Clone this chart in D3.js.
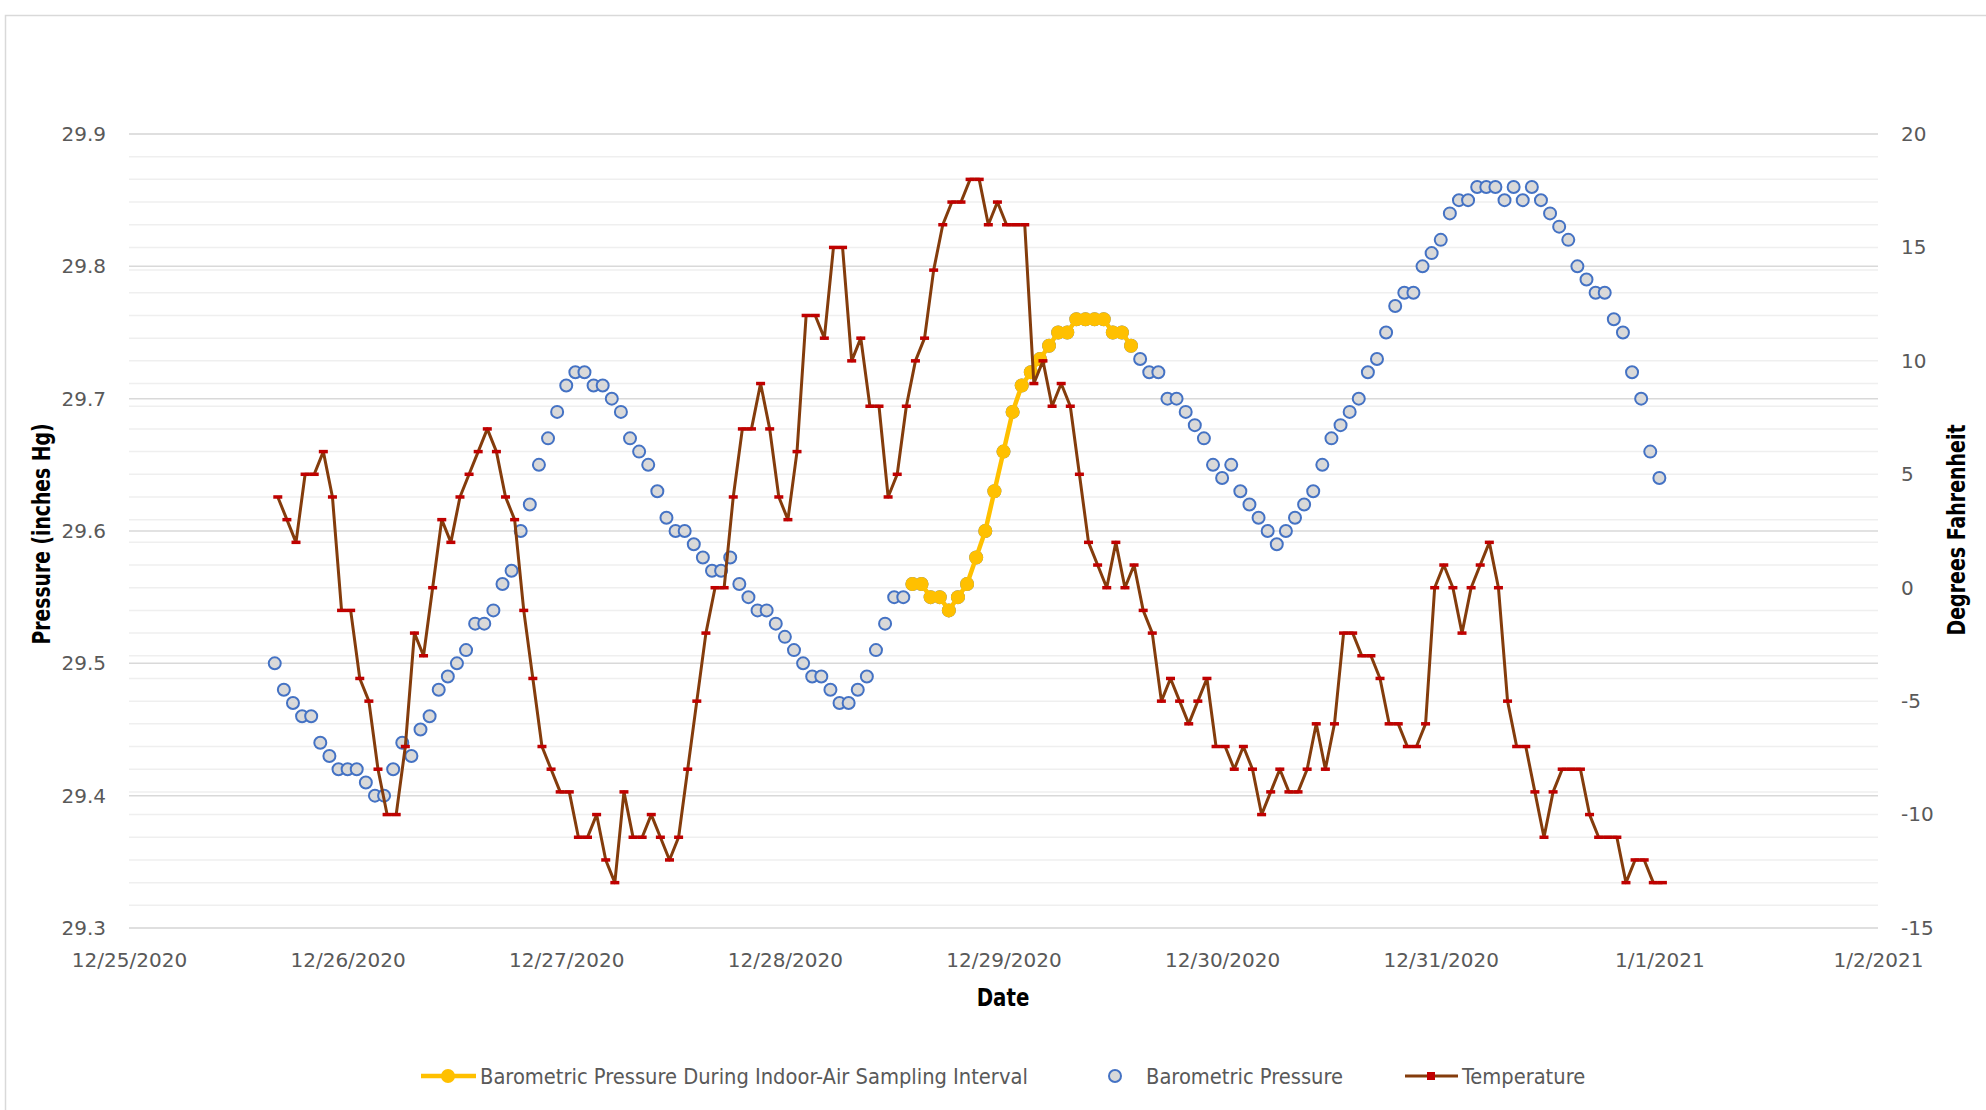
<!DOCTYPE html>
<html lang="en">
<head>
<meta charset="UTF-8">
<title>Barometric Pressure and Temperature</title>
<script src="https://d3js.org/d3.v7.min.js"></script>
<style>
  body { margin: 0; background: #fff; }
  .tick text { font-family: "DejaVu Sans", sans-serif; font-size: 20px; fill: #595959; }
  .title { font-family: "Liberation Sans Narrow", "DejaVu Sans Condensed", sans-serif; font-weight: bold; fill: #000; }
  .legend text { font-family: "Liberation Sans Narrow", "DejaVu Sans Condensed", sans-serif; font-size: 21.7px; fill: #595959; }
</style>
</head>
<body>
<div id="chart"></div>
<script>
// hourly readings, first one at 12/25/2020 16:00
const pressureStart = "2020-12-25T16:00";
const pressure = [
  29.50, 29.48, 29.47, 29.46, 29.46, 29.44, 29.43, 29.42, 29.42, 29.42, 29.41, 29.40, 29.40, 29.42, 29.44, 29.43,
  29.45, 29.46, 29.48, 29.49, 29.50, 29.51, 29.53, 29.53, 29.54, 29.56, 29.57, 29.60, 29.62, 29.65, 29.67, 29.69,
  29.71, 29.72, 29.72, 29.71, 29.71, 29.70, 29.69, 29.67, 29.66, 29.65, 29.63, 29.61, 29.60, 29.60, 29.59, 29.58,
  29.57, 29.57, 29.58, 29.56, 29.55, 29.54, 29.54, 29.53, 29.52, 29.51, 29.50, 29.49, 29.49, 29.48, 29.47, 29.47,
  29.48, 29.49, 29.51, 29.53, 29.55, 29.55,
  29.56, 29.56, 29.55, 29.55, 29.54, 29.55, 29.56, 29.58, 29.60, 29.63, 29.66, 29.69, 29.71, 29.72, 29.73, 29.74,
  29.75, 29.75, 29.76, 29.76, 29.76, 29.76, 29.75, 29.75, 29.74,
  29.73, 29.72, 29.72, 29.70, 29.70, 29.69, 29.68, 29.67, 29.65, 29.64, 29.65, 29.63, 29.62, 29.61, 29.60, 29.59,
  29.60, 29.61, 29.62, 29.63, 29.65, 29.67, 29.68, 29.69, 29.70, 29.72, 29.73, 29.75, 29.77, 29.78, 29.78, 29.80,
  29.81, 29.82, 29.84, 29.85, 29.85, 29.86, 29.86, 29.86, 29.85, 29.86, 29.85, 29.86, 29.85, 29.84, 29.83, 29.82,
  29.80, 29.79, 29.78, 29.78, 29.76, 29.75, 29.72, 29.70, 29.66, 29.64
];

// indoor-air sampling interval
const samplingStart = "2020-12-28T14:00";
const samplingPressure = [
  29.56, 29.56, 29.55, 29.55, 29.54, 29.55, 29.56, 29.58, 29.60, 29.63, 29.66, 29.69, 29.71, 29.72, 29.73, 29.74,
  29.75, 29.75, 29.76, 29.76, 29.76, 29.76, 29.75, 29.75, 29.74
];

// temperature readings are logged a little after the pressure ones
const temperatureStart = "2020-12-25T16:20";
const temperature = [
  4, 3, 2, 5, 5, 6, 4, -1, -1, -4, -5, -8, -10, -10, -7, -2, -3, 0, 3, 2, 4, 5, 6, 7, 6, 4, 3, -1, -4, -7, -8, -9, -9,
  -11, -11, -10, -12, -13, -9, -11, -11, -10, -11, -12, -11, -8, -5, -2, 0, 0, 4, 7, 7, 9, 7, 4, 3, 6, 12, 12, 11, 15, 15, 10, 11, 8, 8,
  4, 5, 8, 10, 11, 14, 16, 17, 17, 18, 18, 16, 17, 16, 16, 16, 9, 10, 8, 9, 8, 5, 2, 1, 0, 2, 0, 1, -1, -2, -5, -4, -5,
  -6, -5, -4, -7, -7, -8, -7, -8, -10, -9, -8, -9, -9, -8, -6, -8, -6, -2, -2, -3, -3, -4, -6, -6, -7, -7, -6, 0, 1, 0, -2, 0, 1,
  2, 0, -5, -7, -7, -9, -11, -9, -8, -8, -8, -10, -11, -11, -11, -13, -12, -12, -13, -13
];

const pressureTicks = [29.3, 29.4, 29.5, 29.6, 29.7, 29.8, 29.9];
const tempTicks = [-15, -10, -5, 0, 5, 10, 15, 20];
const tempMinorTicks = d3.range(-15, 21, 1);
const dateTicks = ["2020-12-25", "2020-12-26", "2020-12-27", "2020-12-28", "2020-12-29",
                   "2020-12-30", "2020-12-31", "2021-01-01", "2021-01-02"];
const seriesNames = ["Barometric Pressure During Indoor-Air Sampling Interval", "Barometric Pressure", "Temperature"];

const W = 1986, H = 1110;
const plot = {left: 129, right: 1878, top: 134, bottom: 928};

const parse = d3.timeParse("%Y-%m-%dT%H:%M");
const parseDay = d3.timeParse("%Y-%m-%d");
const hourly = (start, values) => values.map((v, i) => ({t: d3.timeHour.offset(parse(start), i), v: v}));

const pressureData = hourly(pressureStart, pressure);
const samplingData = hourly(samplingStart, samplingPressure);
const tempData = hourly(temperatureStart, temperature);
const days = dateTicks.map(parseDay);

const x = d3.scaleTime().domain([days[0], days[days.length - 1]]).range([plot.left, plot.right]);
const yP = d3.scaleLinear().domain([29.3, 29.9]).range([plot.bottom, plot.top]);
const yT = d3.scaleLinear().domain([-15, 20]).range([plot.bottom, plot.top]);

const svg = d3.select("#chart").append("svg")
  .attr("width", W)
  .attr("height", H);

// chart area border
svg.append("rect")
  .attr("x", 5.5).attr("y", 15.5)
  .attr("width", W + 20).attr("height", H + 20)
  .attr("fill", "none")
  .attr("stroke", "#d9d9d9")
  .attr("stroke-width", 1.5);

// gridlines: light ones from the temperature axis, darker ones from the pressure axis
svg.append("g")
  .selectAll("line")
  .data(tempMinorTicks)
  .join("line")
    .attr("x1", plot.left).attr("x2", plot.right)
    .attr("y1", d => yT(d)).attr("y2", d => yT(d))
    .attr("stroke", "#efefef")
    .attr("stroke-width", 1.5);

svg.append("g")
  .selectAll("line")
  .data(pressureTicks)
  .join("line")
    .attr("x1", plot.left).attr("x2", plot.right)
    .attr("y1", d => yP(d)).attr("y2", d => yP(d))
    .attr("stroke", "#d9d9d9")
    .attr("stroke-width", 1.5);

// axes (labels only)
const leftAxis = svg.append("g")
  .attr("transform", `translate(${plot.left},0)`)
  .call(d3.axisLeft(yP).tickValues(pressureTicks).tickFormat(d3.format(".1f")).tickSize(0).tickPadding(23));
leftAxis.select(".domain").remove();

const rightAxis = svg.append("g")
  .attr("transform", `translate(${plot.right},0)`)
  .call(d3.axisRight(yT).tickValues(tempTicks).tickFormat(d => d < 0 ? "-" + Math.abs(d) : d).tickSize(0).tickPadding(23));
rightAxis.select(".domain").remove();

const bottomAxis = svg.append("g")
  .attr("transform", `translate(0,${plot.bottom})`)
  .call(d3.axisBottom(x).tickValues(days).tickFormat(d3.timeFormat("%-m/%-d/%Y")).tickSize(0).tickPadding(25));
bottomAxis.select(".domain").remove();
svg.selectAll(".tick text").attr("font-family", null).attr("font-size", null);

// axis titles, squeezed a bit to look like a narrow bold face
svg.append("text").attr("class", "title")
  .attr("transform", "translate(1003,1006) scale(0.88,1)")
  .attr("text-anchor", "middle")
  .style("font-size", "25px")
  .text("Date");

svg.append("text").attr("class", "title")
  .attr("transform", "translate(50,534) rotate(-90) scale(0.87,1)")
  .attr("text-anchor", "middle")
  .style("font-size", "24px")
  .text("Pressure (inches Hg)");

svg.append("text").attr("class", "title")
  .attr("transform", "translate(1965,530) rotate(-90) scale(0.88,1)")
  .attr("text-anchor", "middle")
  .style("font-size", "24px")
  .text("Degrees Fahrenheit");

// barometric pressure markers
svg.append("g")
  .selectAll("circle")
  .data(pressureData)
  .join("circle")
    .attr("cx", d => x(d.t))
    .attr("cy", d => yP(d.v))
    .attr("r", 6)
    .attr("fill", "#d9d9d9")
    .attr("stroke", "#4472c4")
    .attr("stroke-width", 2);

// sampling interval
svg.append("path")
  .datum(samplingData)
  .attr("fill", "none")
  .attr("stroke", "#ffc000")
  .attr("stroke-width", 4.5)
  .attr("d", d3.line().x(d => x(d.t)).y(d => yP(d.v)));

svg.append("g")
  .selectAll("circle")
  .data(samplingData)
  .join("circle")
    .attr("cx", d => x(d.t))
    .attr("cy", d => yP(d.v))
    .attr("r", 7)
    .attr("fill", "#ffc000");

// temperature on the secondary axis
svg.append("path")
  .datum(tempData)
  .attr("fill", "none")
  .attr("stroke", "#843c0c")
  .attr("stroke-width", 3)
  .attr("stroke-linejoin", "round")
  .attr("d", d3.line().x(d => x(d.t)).y(d => yT(d.v)));

svg.append("g")
  .selectAll("rect")
  .data(tempData)
  .join("rect")
    .attr("x", d => x(d.t) - 4.5)
    .attr("y", d => yT(d.v) - 1.75)
    .attr("width", 9)
    .attr("height", 3.5)
    .attr("fill", "#c00000");

// legend
const legend = svg.append("g").attr("class", "legend");
const ly = 1076;

legend.append("line")
  .attr("x1", 421).attr("x2", 476).attr("y1", ly).attr("y2", ly)
  .attr("stroke", "#ffc000").attr("stroke-width", 4.5);
legend.append("circle")
  .attr("cx", 448).attr("cy", ly).attr("r", 7).attr("fill", "#ffc000");
legend.append("text")
  .attr("x", 480).attr("y", ly).attr("dy", "0.35em")
  .text(seriesNames[0]);

legend.append("circle")
  .attr("cx", 1115).attr("cy", ly).attr("r", 6)
  .attr("fill", "#d9d9d9").attr("stroke", "#4472c4").attr("stroke-width", 2);
legend.append("text")
  .attr("x", 1146).attr("y", ly).attr("dy", "0.35em")
  .text(seriesNames[1]);

legend.append("line")
  .attr("x1", 1405).attr("x2", 1458).attr("y1", ly).attr("y2", ly)
  .attr("stroke", "#843c0c").attr("stroke-width", 3);
legend.append("rect")
  .attr("x", 1427).attr("y", ly - 4).attr("width", 8).attr("height", 8)
  .attr("fill", "#c00000");
legend.append("text")
  .attr("x", 1462).attr("y", ly).attr("dy", "0.35em")
  .text(seriesNames[2]);
</script>
</body>
</html>
